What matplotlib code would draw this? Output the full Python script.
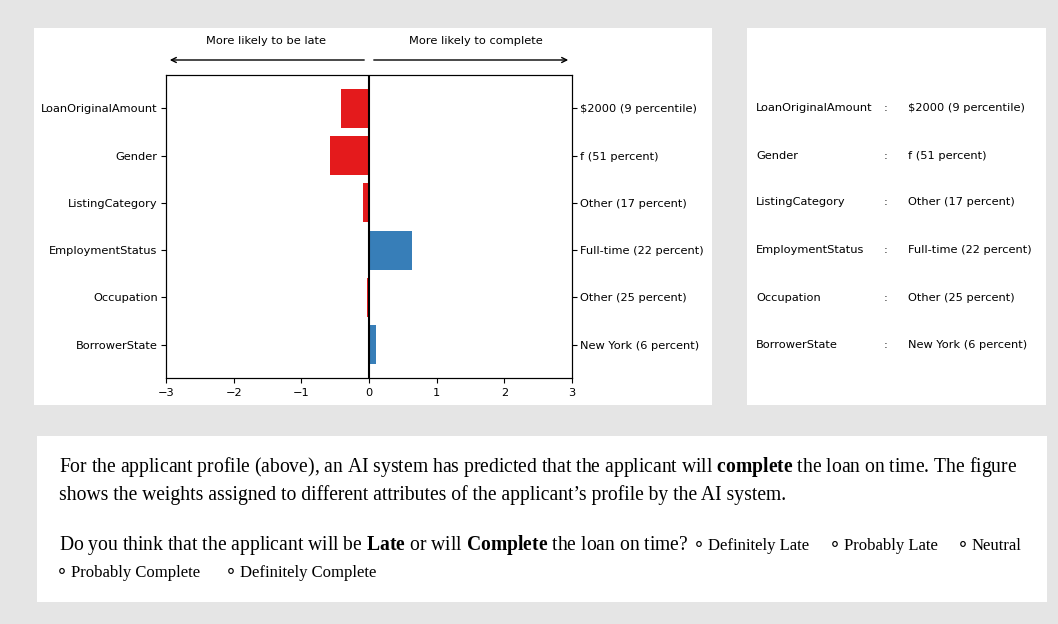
import matplotlib
matplotlib.use("Agg")
import matplotlib.pyplot as plt
from matplotlib.patches import Rectangle, FancyArrowPatch

plt.rcParams['mathtext.fontset'] = 'custom'
plt.rcParams['mathtext.rm'] = 'Liberation Serif'
plt.rcParams['mathtext.bf'] = 'Liberation Serif:bold'

features = ["LoanOriginalAmount", "Gender", "ListingCategory",
            "EmploymentStatus", "Occupation", "BorrowerState"]
weights = [-0.41, -0.58, -0.09, 0.64, -0.03, 0.10]
values = ["$2000 (9 percentile)", "f (51 percent)", "Other (17 percent)",
          "Full-time (22 percent)", "Other (25 percent)", "New York (6 percent)"]
xticks = [-3, -2, -1, 0, 1, 2, 3]
left_label = "More likely to be late"
right_label = "More likely to complete"
options_line1 = ["Definitely Late", "Probably Late", "Neutral"]
options_line2 = ["Probably Complete", "Definitely Complete"]

W, H = 1058, 624
fig = plt.figure(figsize=(W / 100, H / 100), dpi=100)
fig.patch.set_facecolor("#e5e5e5")

def px_rect(x0, y0, x1, y1, **kw):
    r = Rectangle((x0 / W, 1 - y1 / H), (x1 - x0) / W, (y1 - y0) / H,
                  transform=fig.transFigure, **kw)
    r.set_zorder(-5)
    fig.add_artist(r)

px_rect(34, 28, 712, 405, facecolor="white", edgecolor="none")
px_rect(747, 28, 1046, 405, facecolor="white", edgecolor="none")
px_rect(37, 436, 1047, 602, facecolor="white", edgecolor="none")

# main chart
ax_l, ax_r, ax_t, ax_b = 166, 572, 75, 378
ax = fig.add_axes([ax_l / W, 1 - ax_b / H, (ax_r - ax_l) / W, (ax_b - ax_t) / H])
ax.set_zorder(1)
ypos = list(range(len(features)))
colors = ["#e41a1c" if w < 0 else "#377eb8" for w in weights]
ax.barh(ypos, weights, height=0.82, color=colors)
ax.axvline(0, color="black", lw=1.5)
ax.set_xlim(-3, 3)
ax.set_xticks(xticks)
ax.set_yticks(ypos)
ax.set_yticklabels(features)
ax.invert_yaxis()
ax.tick_params(labelsize=8.2, length=3.5)
ax.tick_params(axis="y", pad=2.5)
ax2 = ax.twinx()
ax2.set_ylim(ax.get_ylim())
ax2.set_yticks(ypos)
ax2.set_yticklabels(values)
ax2.tick_params(labelsize=8.2, length=3.5, pad=2.5)

fs = 8.2
def fx(x):
    return x / W
def fy(y):
    return 1 - y / H

fig.text(fx(266), fy(41), left_label, ha="center", va="center", fontsize=fs)
fig.text(fx(476), fy(41), right_label, ha="center", va="center", fontsize=fs)
fig.add_artist(FancyArrowPatch((fx(367), fy(60)), (fx(167), fy(60)),
               transform=fig.transFigure, arrowstyle="->", mutation_scale=9, lw=1, color="black"))
fig.add_artist(FancyArrowPatch((fx(371), fy(60)), (fx(571), fy(60)),
               transform=fig.transFigure, arrowstyle="->", mutation_scale=9, lw=1, color="black"))

# right panel table
row_y = [108, 156, 202, 250, 298, 345]
for i, (f, v) in enumerate(zip(features, values)):
    fig.text(fx(756), fy(row_y[i]), f, ha="left", va="center", fontsize=fs)
    fig.text(fx(884), fy(row_y[i]), ":", ha="left", va="center", fontsize=fs)
    fig.text(fx(908), fy(row_y[i]), v.replace("$", r"\$"), ha="left", va="center", fontsize=fs)

# bottom text
serif = ["Liberation Serif", "DejaVu Serif"]
bfs = 14.1
fig.text(fx(59), fy(472),
         r"For the applicant profile (above), an AI system has predicted that the applicant will $\mathbf{complete}$ the loan on time. The figure",
         ha="left", va="baseline", fontsize=bfs, family=serif)
fig.text(fx(59), fy(500),
         "shows the weights assigned to different attributes of the applicant\u2019s profile by the AI system.",
         ha="left", va="baseline", fontsize=bfs, family=serif)
fig.text(fx(59), fy(550),
         r"Do you think that the applicant will be $\mathbf{Late}$ or will $\mathbf{Complete}$ the loan on time?",
         ha="left", va="baseline", fontsize=bfs, family=serif)
ofs = 12.0

def option(x, y, label):
    fig.text(fx(x + 3), fy(y), "\u26ac", ha="center", va="baseline", fontsize=ofs,
             family="DejaVu Sans")
    fig.text(fx(x + 12), fy(y), label, ha="left", va="baseline", fontsize=ofs, family=serif)

for x, t in zip([696, 832, 960], options_line1):
    option(x, 550, t)
for x, t in zip([59, 228], options_line2):
    option(x, 577, t)

fig.savefig("out.png", dpi=100, facecolor=fig.get_facecolor())
